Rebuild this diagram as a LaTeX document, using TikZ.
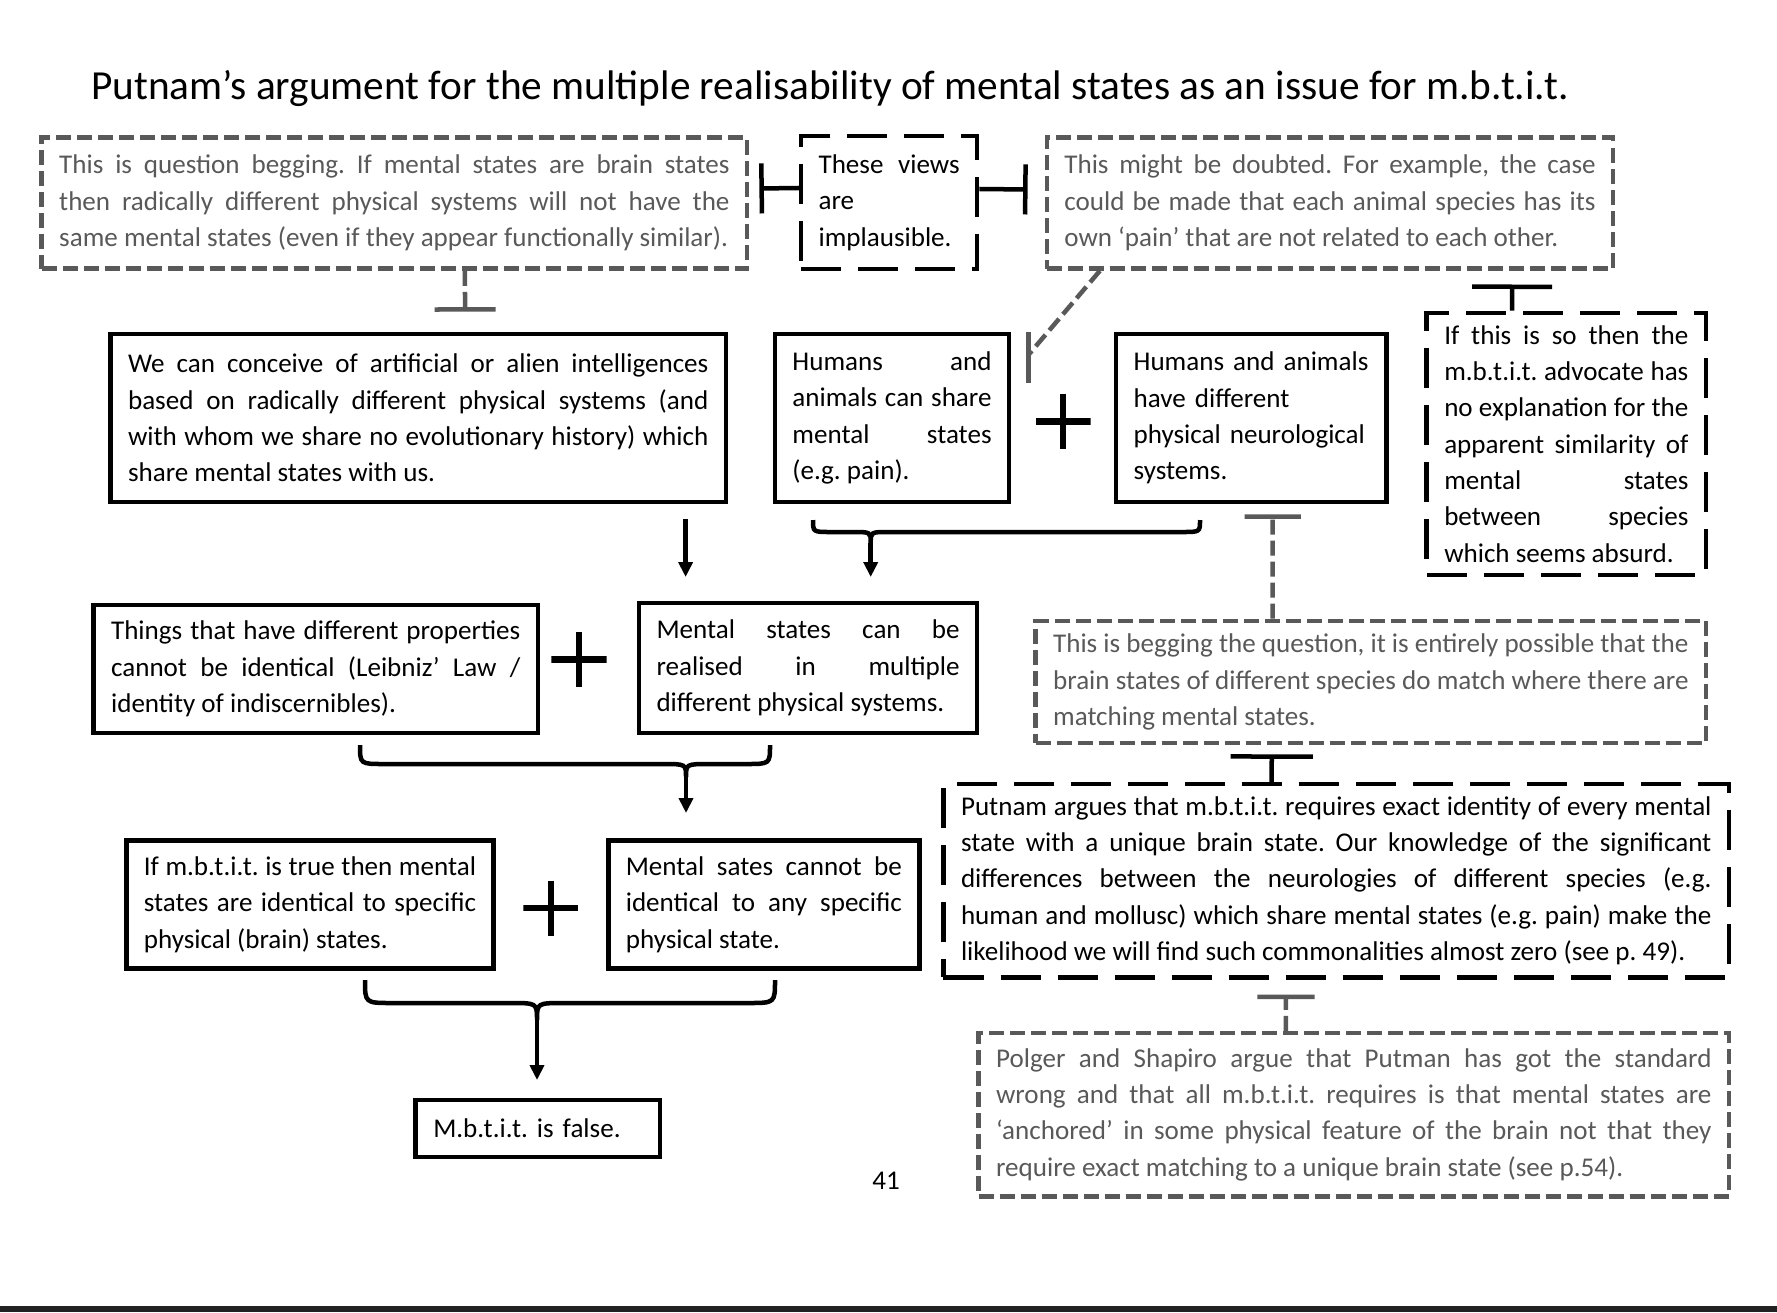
\documentclass[tikz,border=0pt]{standalone}
\usepackage{fontspec}
\setmainfont{Carlito}
\usepackage{tikz}
\usetikzlibrary{arrows.meta,calc,positioning}
\definecolor{gry}{RGB}{89,89,89}
\definecolor{band}{RGB}{34,34,34}
\hyphenpenalty=10000
\exhyphenpenalty=10000
\frenchspacing
% brace: x1, x2, x of cusp, top of hooks, y of bar, y of cusp, radius
\newcommand{\brc}[7]{\draw[line width=.045cm] (#1,#4) .. controls (#1,#5) .. (#1+#7,#5) -- (#3-#7,#5) .. controls (#3,#5) .. (#3,#6) .. controls (#3,#5) .. (#3+#7,#5) -- (#2-#7,#5) .. controls (#2,#5) .. (#2,#4);}

\begin{document}
\begin{tikzpicture}[x=0.01cm,y=-0.01cm,
txt/.style={font=\fontsize{7.7}{10.33}\selectfont,align=justify,inner xsep=.175cm,inner ysep=0pt},
sol/.style={txt,draw,line width=.045cm},
gbox/.style={txt,draw=gry,text=gry,line width=.045cm,dash pattern=on .15cm off .06cm},
bbox/.style={txt,draw,line width=.045cm,dash pattern=on .4cm off .17cm},
gln/.style={draw=gry,line width=.045cm,dash pattern=on .15cm off .06cm},
arw/.style={line width=.045cm,-{Triangle[length=.15cm,width=.14cm]}},
plussign/.style={minimum size=.55cm,inner sep=0,path picture={\draw[line width=.065cm] (path picture bounding box.north) -- (path picture bounding box.south) (path picture bounding box.west) -- (path picture bounding box.east);}}]
\useasboundingbox (0,0) rectangle (1777,1312);
\fill[band] (0,1306) rectangle (1777,1312);

\node[anchor=base west,inner sep=0,font=\fontsize{11.75}{14}\selectfont] (T) at (90.7,99) {Putnam’s argument for the multiple realisability of mental states as an issue for m.b.t.i.t.};

% objections row
\node[gbox,minimum width=7.05cm,minimum height=1.31cm,text width=6.70cm] (A) at (394.4,203) {This is question begging. If mental states are brain states\linebreak then radically different physical systems will not have the\linebreak same mental states (even if they appear functionally similar).};
\node[bbox,minimum width=1.76cm,minimum height=1.33cm,text width=1.41cm] (B) at (889.1,202.5) {These views\linebreak are\\ implausible.};
\node[gbox,minimum width=5.66cm,minimum height=1.31cm,text width=5.31cm] (C) at (1330,203) {This might be doubted. For example, the case\linebreak could be made that each animal species has its\linebreak own ‘pain’ that are not related to each other.};

% premises
\node[sol,minimum width=6.15cm,minimum height=1.68cm,text width=5.80cm] (D) at (418.2,418) {We can conceive of artificial or alien intelligences\linebreak based on radically different physical systems (and\linebreak with whom we share no evolutionary history) which\linebreak share mental states with us.};
\node[sol,minimum width=2.34cm,minimum height=1.68cm,text width=1.99cm] (E) at (892,418) {Humans and\linebreak animals can share\linebreak mental states\linebreak (e.g. pain).};
\node[sol,align=left,minimum width=2.70cm,minimum height=1.68cm,text width=2.35cm] (F) at (1251.2,418) {Humans and animals\\ have different\\ physical neurological\\ systems.};
\node[bbox,minimum width=2.79cm,minimum height=2.62cm,text width=2.44cm] (G) at (1566.3,444) {If this is so then the\linebreak m.b.t.i.t. advocate has\linebreak no explanation for the\linebreak apparent similarity of\linebreak mental states\linebreak between species\linebreak which seems absurd.};
\node[plussign] (P1) at (1063,421.6) {};

\node[sol,minimum width=4.44cm,minimum height=1.28cm,text width=4.09cm] (I) at (315.7,669) {Things that have different properties\linebreak cannot be identical (Leibniz’ Law /\linebreak identity of indiscernibles).};
\node[sol,minimum width=3.38cm,minimum height=1.30cm,text width=3.03cm] (H) at (808.1,668) {Mental states can be\linebreak realised in multiple\linebreak different physical systems.};
\node[plussign] (P2) at (579,659.4) {};
\node[gbox,minimum width=6.70cm,minimum height=1.22cm,text width=6.35cm] (J) at (1370.8,682) {This is begging the question, it is entirely possible that the\linebreak brain states of different species do match where there are\linebreak matching mental states.};

\node[sol,minimum width=3.67cm,minimum height=1.28cm,text width=3.32cm] (K) at (310,904.6) {If m.b.t.i.t. is true then mental\linebreak states are identical to specific\linebreak physical (brain) states.};
\node[sol,minimum width=3.11cm,minimum height=1.28cm,text width=2.76cm] (L) at (763.9,904.6) {Mental sates cannot be\linebreak identical to any specific\linebreak physical state.};
\node[plussign] (P3) at (550.8,908) {};
\node[bbox,minimum width=7.85cm,minimum height=1.93cm,text width=7.50cm] (N) at (1336.2,880.7) {Putnam argues that m.b.t.i.t. requires exact identity of every mental\linebreak state with a unique brain state. Our knowledge of the significant\linebreak differences between the neurologies of different species (e.g.\linebreak human and mollusc) which share mental states (e.g. pain) make the\linebreak likelihood we will find such commonalities almost zero (see p. 49).};

\node[sol,align=left,minimum width=2.44cm,minimum height=.57cm,text width=2.09cm] (M) at (537.8,1128.5) {M.b.t.i.t. is false.};
\node[gbox,minimum width=7.50cm,minimum height=1.63cm,text width=7.15cm] (O) at (1353.8,1114.7) {Polger and Shapiro argue that Putman has got the standard\linebreak wrong and that all m.b.t.i.t. requires is that mental states are\linebreak ‘anchored’ in some physical feature of the brain not that they\linebreak require exact matching to a unique brain state (see p.54).};
\node[txt] (pg) at (886,1181) {41};

% objection bars
\path[draw,line width=.045cm]
([yshift=.145cm]B.west) edge[-{Bar[width=.5cm]}] ([xshift=.1cm,yshift=.145cm]A.east)
([yshift=.135cm]B.east) edge[-{Bar[width=.5cm]}] ([xshift=-.17cm,yshift=.135cm]C.west)
([xshift=-.543cm]G.north) edge[-{Bar[width=.8cm]}] ([xshift=1.82cm,yshift=-.137cm]C.south)
([xshift=-.645cm]N.north) edge[-{Bar[width=.82cm]}] ([xshift=-.99cm,yshift=-.09cm]J.south);
\path[gln]
([xshift=.705cm]A.south) edge[-{Bar[width=.61cm]}] ([xshift=.468cm,yshift=.2cm]D.north)
([xshift=-.981cm]J.north) edge[-{Bar[width=.56cm]}] ([xshift=.215cm,yshift=-.1cm]F.south)
([xshift=-.678cm]O.north) edge[-{Bar[width=.57cm]}] ([xshift=-.502cm,yshift=-.15cm]N.south)
([xshift=-2.3cm]C.south) edge ([xshift=.17cm,yshift=.63cm]E.east);
\draw[gry,line width=.045cm] ([xshift=.17cm,yshift=.86cm]E.east) -- ([xshift=.17cm,yshift=.35cm]E.east);

% braces and inferences
\brc{813}{1200}{870.7}{520}{532}{543}{18}
\brc{360}{770}{686}{745}{764}{777}{24}
\brc{365}{775}{537}{980}{1003}{1020}{27}
\coordinate (d1) at (685.6,519);
\coordinate (d2) at (685.6,577);
\coordinate (c1) at (870.7,543);
\coordinate (t1) at (870.7,577);
\coordinate (c2) at (686,777);
\coordinate (t2) at (686,813);
\coordinate (c3) at (537,1020);
\coordinate (t3) at (537,1080);
\draw[arw] (d1) -- (d2);
\draw[arw] (c1) -- (t1);
\draw[arw] (c2) -- (t2);
\draw[arw] (c3) -- (t3);
\end{tikzpicture}
\end{document}
